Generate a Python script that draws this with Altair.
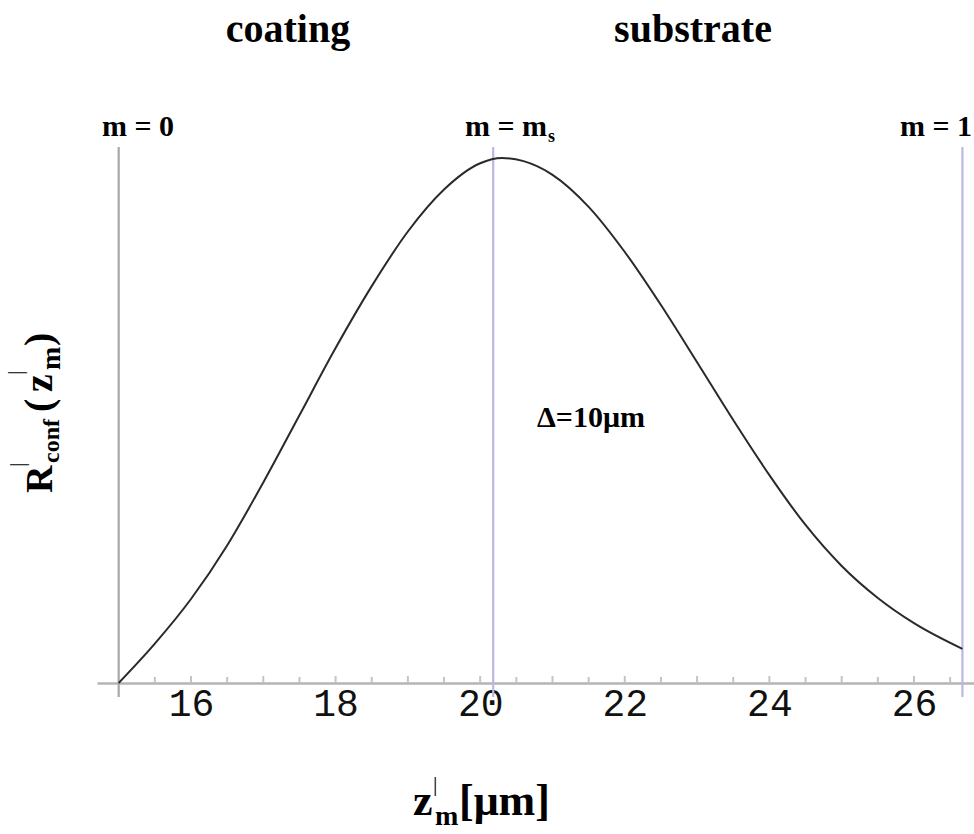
import altair as alt
import pandas as pd

# ---------------- data ----------------
curve_x = [15.0, 15.5, 16.0, 16.5, 17.0, 17.5, 18.0, 18.5, 19.0, 19.5, 20.0, 20.3,
           20.6, 21.0, 21.5, 22.0, 22.5, 23.0, 23.5, 24.0, 24.5, 25.0, 25.5, 26.0, 26.67]
curve_r = [0.000, 0.075, 0.160, 0.262, 0.382, 0.510, 0.638, 0.756, 0.860, 0.940, 0.990, 1.000,
           0.994, 0.968, 0.907, 0.821, 0.720, 0.611, 0.501, 0.396, 0.301, 0.223, 0.162, 0.114, 0.065]

marker_x = [15.0, 20.18, 26.67]
marker_name = ["m = 0", "m = ms", "m = 1"]
marker_color = ["#a8a8a8", "#b8b8e0", "#b8b8e0"]

tick_labels = [16, 18, 20, 22, 24, 26]
major_ticks = [16, 17, 18, 19, 20, 21, 22, 23, 24, 25, 26]
minor_ticks = [15.5, 16.5, 17.5, 18.5, 19.5, 20.5, 21.5, 22.5, 23.5, 24.5, 25.5, 26.5]

# ---------------- layout ----------------
LEFT, TOP = 97, 100
W, H = 877, 583
X_DOM = [14.7, 26.83]
Y_DOM = [0, 1.1105]
SERIF = "Liberation Serif"

xs = alt.Scale(domain=X_DOM, nice=False, zero=False)
ys = alt.Scale(domain=Y_DOM, nice=False, zero=False)

curve_df = pd.DataFrame({"z": curve_x, "R": curve_r})
marker_df = pd.DataFrame({"z": marker_x, "name": marker_name, "c": marker_color})

axis_x = alt.Axis(values=tick_labels, format="d", ticks=False, tickSize=0, grid=False,
                  domainColor="#b4b4b4", domainWidth=2.5,
                  labelFont="Liberation Mono", labelFontSize=38, labelColor="#111111",
                  labelPadding=2, labelFlush=False, labelOverlap=False, title=None)

curve = alt.Chart(curve_df).mark_line(color="#2a2a2a", strokeWidth=2, interpolate="monotone").encode(
    x=alt.X("z:Q", scale=xs, axis=axis_x),
    y=alt.Y("R:Q", scale=ys, axis=None),
)

markers = alt.Chart(marker_df).mark_rule(strokeWidth=2.2).encode(
    x=alt.X("z:Q", scale=xs),
    y=alt.value(147 - TOP),
    y2=alt.value(697 - TOP),
    color=alt.Color("c:N", scale=None, legend=None),
)

major = alt.Chart(pd.DataFrame({"z": major_ticks})).mark_rule(color="#c4c4c4", strokeWidth=2).encode(
    x=alt.X("z:Q", scale=xs), y=alt.value(H - 7), y2=alt.value(H))
minor = alt.Chart(pd.DataFrame({"z": minor_ticks})).mark_rule(color="#c4c4c4", strokeWidth=2).encode(
    x=alt.X("z:Q", scale=xs), y=alt.value(H - 6), y2=alt.value(H))


def ann(text, X, Y, size, align="left", angle=0, weight="bold", font=SERIF):
    kw = dict(align=align, baseline="alphabetic", fontSize=size, fontWeight=weight,
              font=font, color="black")
    if angle:
        kw["angle"] = angle
    return alt.Chart(pd.DataFrame({"t": [text]})).mark_text(**kw).encode(
        text="t:N", x=alt.value(X - LEFT), y=alt.value(Y - TOP))


texts = [
    ann("coating", 288, 42, 40, align="center"),
    ann("substrate", 693, 42, 40, align="center"),
    ann("m = 0", 102, 136, 30),
    ann("m = m", 465, 136, 30),
    ann("s", 548, 142, 18),
    ann("m = 1", 972, 136, 30, align="right"),
    ann("\u0394=10\u03bcm", 537, 427, 30),
    # x title  z'_m[μm]
    ann("z", 413, 815, 44),
    ann("|", 433, 791, 22, weight="normal"),
    ann("m", 435, 825, 28),
    ann("[\u03bcm]", 459, 815, 44),
    # y title  R'_conf (z'_m)   (rotated, reading upwards)
    ann("R", 52, 493, 38, angle=270),
    ann("|", 24, 467, 22, angle=270, weight="normal"),
    ann("conf", 59, 463, 24, angle=270),
    ann("(", 52, 412, 40, angle=270),
    ann("z", 52, 392, 40, angle=270),
    ann("|", 22, 375, 22, angle=270, weight="normal"),
    ann("m", 60, 370, 28, angle=270),
    ann(")", 52, 346, 40, angle=270),
]

chart = alt.layer(minor, major, markers, curve, *texts).properties(
    width=W, height=H,
    autosize=alt.AutoSizeParams(type="none"),
    padding={"left": LEFT, "top": TOP, "right": 0, "bottom": 834 - TOP - H},
    background="white",
).configure_view(stroke=None)

chart.save("out.html", embed_options={"renderer": "svg", "actions": False})
